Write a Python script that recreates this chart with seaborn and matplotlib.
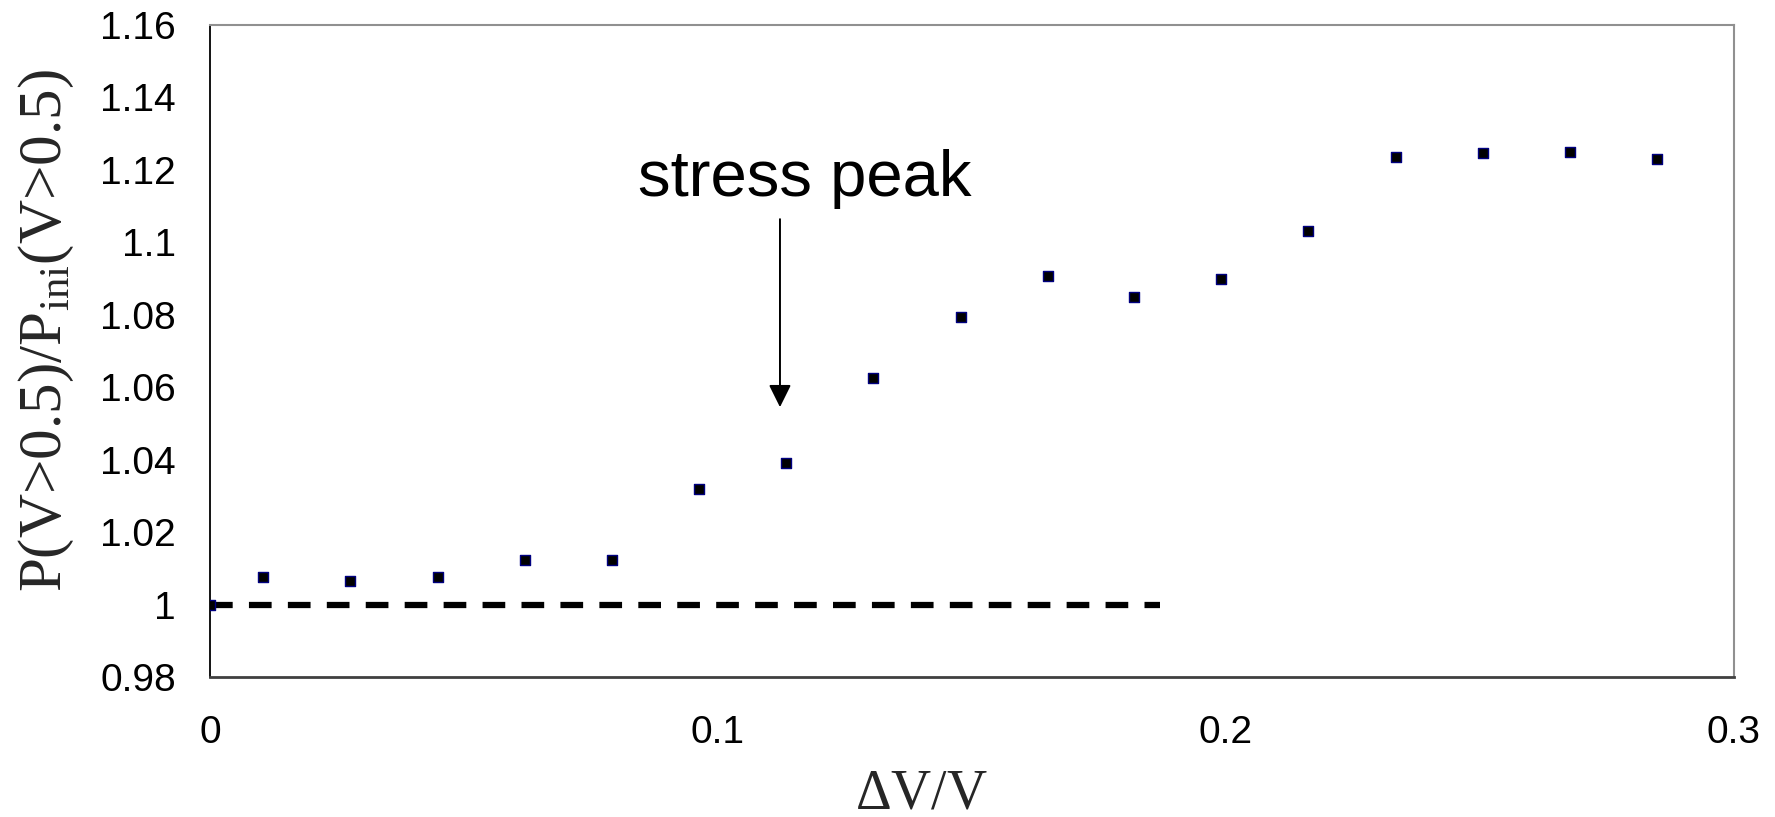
import matplotlib
matplotlib.use("Agg")
import matplotlib.pyplot as plt
import seaborn as sns
import pandas as pd
from matplotlib.ticker import FuncFormatter, FixedLocator

# ---- data ----
dv = [0.0, 0.0105, 0.0276, 0.0448, 0.0620, 0.0791, 0.0963, 0.1134, 0.1306,
      0.1478, 0.1650, 0.1819, 0.1990, 0.2162, 0.2334, 0.2505, 0.2677, 0.2849]
ratio = [1.000, 1.0077, 1.0066, 1.0077, 1.0122, 1.0122, 1.0320, 1.0391, 1.0625,
         1.0793, 1.0908, 1.0849, 1.0899, 1.1032, 1.1236, 1.1246, 1.1250, 1.1230]
ref_x = [0.0, 0.187]
ref_y = [1.0, 1.0]
xticks = [0.0, 0.1, 0.2, 0.3]
yticks = [0.98, 1.0, 1.02, 1.04, 1.06, 1.08, 1.1, 1.12, 1.14, 1.16]
annot_text = "stress peak"
arrow_x = 0.1122
arrow_y_start = 1.1064
arrow_y_end = 1.0545

sns.set_style("white")
plt.rcParams['font.family'] = ['Liberation Sans', 'DejaVu Sans']
plt.rcParams['mathtext.fontset'] = 'custom'
plt.rcParams['mathtext.rm'] = 'Liberation Serif'
plt.rcParams['mathtext.it'] = 'Liberation Serif:italic'

fig = plt.figure(figsize=(17.75, 8.17), dpi=100)
ax = fig.add_axes([210 / 1775, 1 - 677 / 817, (1734 - 210) / 1775, (677 - 25) / 817])

df = pd.DataFrame({"dv": dv, "ratio": ratio})
ref = pd.DataFrame({"x": ref_x, "y": ref_y})

sns.lineplot(data=ref, x="x", y="y", ax=ax, color="black", linewidth=4.5,
             zorder=2)
ax.lines[-1].set_dashes((3.63, 2.6))
ax.lines[-1].set_dash_capstyle("butt")
sns.scatterplot(data=df, x="dv", y="ratio", ax=ax, marker="s", s=58,
                color="black", edgecolor="#000080", linewidth=1.0, zorder=3)

ax.set_xlim(0, 0.3)
ax.set_ylim(0.98, 1.16)
ax.xaxis.set_major_locator(FixedLocator(xticks))
ax.yaxis.set_major_locator(FixedLocator(yticks))
fmt = FuncFormatter(lambda v, p: ("%g" % round(v, 4)))
ax.xaxis.set_major_formatter(fmt)
ax.yaxis.set_major_formatter(fmt)

ax.tick_params(axis="both", which="major", labelsize=28, direction="out",
               colors="#000000")
ax.tick_params(axis="y", length=9.4, width=1.2, color="#808080", pad=15)
ax.tick_params(axis="x", length=8.6, width=1.2, color="#404040", pad=19)

for side in ["top", "right"]:
    ax.spines[side].set_color("#909090")
    ax.spines[side].set_linewidth(1.5)
ax.spines["left"].set_color("#000000")
ax.spines["left"].set_linewidth(1.3)
ax.spines["bottom"].set_color("#404040")
ax.spines["bottom"].set_linewidth(2.0)

ax.set_xlabel(r"$\Delta$V/V", fontsize=40, family="Liberation Serif")
ax.xaxis.set_label_coords(0.4665, -0.14)
ax.set_ylabel(r"P(V>0.5)/P$_{\mathrm{ini}}$(V>0.5)", fontsize=44,
              family="Liberation Serif")
ax.yaxis.set_label_coords(-0.088, 0.531)

ax.annotate("", xy=(arrow_x, arrow_y_end), xytext=(arrow_x, arrow_y_start),
            arrowprops=dict(arrowstyle="-|>,head_length=1.37,head_width=0.68",
                            color="black", lw=1.4, shrinkA=0, shrinkB=0))
ax.text(0.1171, 1.1128, annot_text, fontsize=47, ha="center", va="baseline",
        color="black")

fig.savefig("out.png", dpi=100)
